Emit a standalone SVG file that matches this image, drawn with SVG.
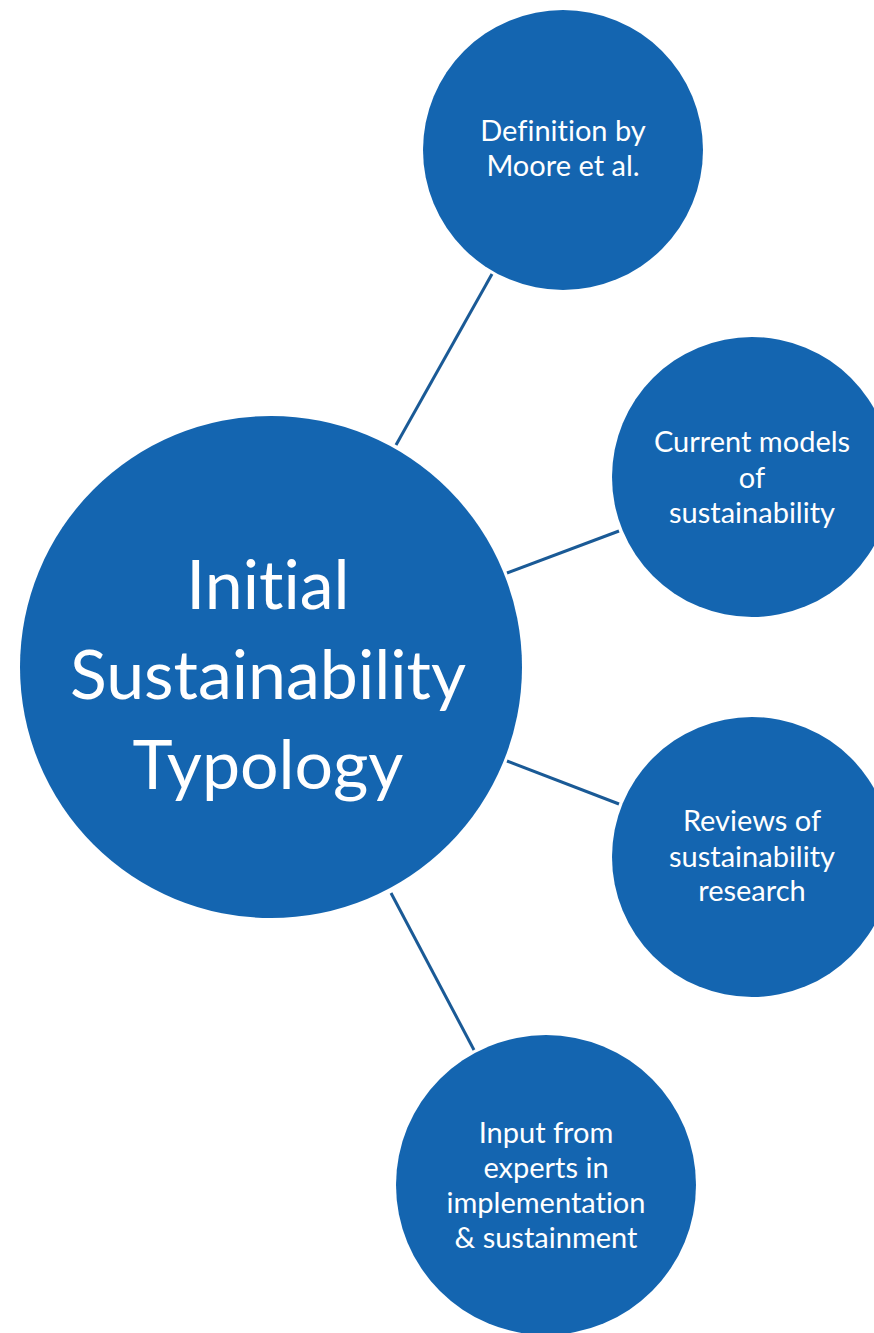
<svg xmlns="http://www.w3.org/2000/svg" width="874" height="1333" viewBox="0 0 874 1333">
<style>
.n{fill:#1465B0}
.t{fill:#fff;font-family:Lato,"Open Sans",sans-serif;font-size:29px;text-anchor:middle;font-variant-ligatures:none}
.b{fill:#fff;font-family:Lato,"Open Sans",sans-serif;font-size:68px;text-anchor:middle;font-variant-ligatures:none}
.c{stroke:#1A5A96;stroke-width:3;fill:none}
</style>
<rect width="874" height="1333" fill="#fff"/>
<g id="connectors">
<line class="c" x1="492" y1="274" x2="396" y2="445"/>
<line class="c" x1="507" y1="573" x2="619" y2="531"/>
<line class="c" x1="507" y1="761" x2="619" y2="804"/>
<line class="c" x1="391" y1="893" x2="474" y2="1050"/>
</g>
<g id="center">
<circle class="n" cx="271" cy="667" r="251"/>
<text class="b" x="268" y="609">Initial</text>
<text class="b" x="268" y="699">Sustainability</text>
<text class="b" x="268" y="789">Typology</text>
</g>
<g id="moore">
<circle class="n" cx="563" cy="150" r="140"/>
<text class="t" x="563" y="141">Definition by</text>
<text class="t" x="563" y="176">Moore et al.</text>
</g>
<g id="models">
<circle class="n" cx="752" cy="477" r="140"/>
<text class="t" x="752" y="452">Current models</text>
<text class="t" x="752" y="488">of</text>
<text class="t" x="752" y="523">sustainability</text>
</g>
<g id="reviews">
<circle class="n" cx="752" cy="857" r="140"/>
<text class="t" x="752" y="831">Reviews of</text>
<text class="t" x="752" y="867">sustainability</text>
<text class="t" x="752" y="901">research</text>
</g>
<g id="experts">
<circle class="n" cx="546" cy="1185" r="150"/>
<text class="t" x="546" y="1143">Input from</text>
<text class="t" x="546" y="1178">experts in</text>
<text class="t" x="546" y="1213">implementation</text>
<text class="t" x="546" y="1248">&amp; sustainment</text>
</g>
</svg>
